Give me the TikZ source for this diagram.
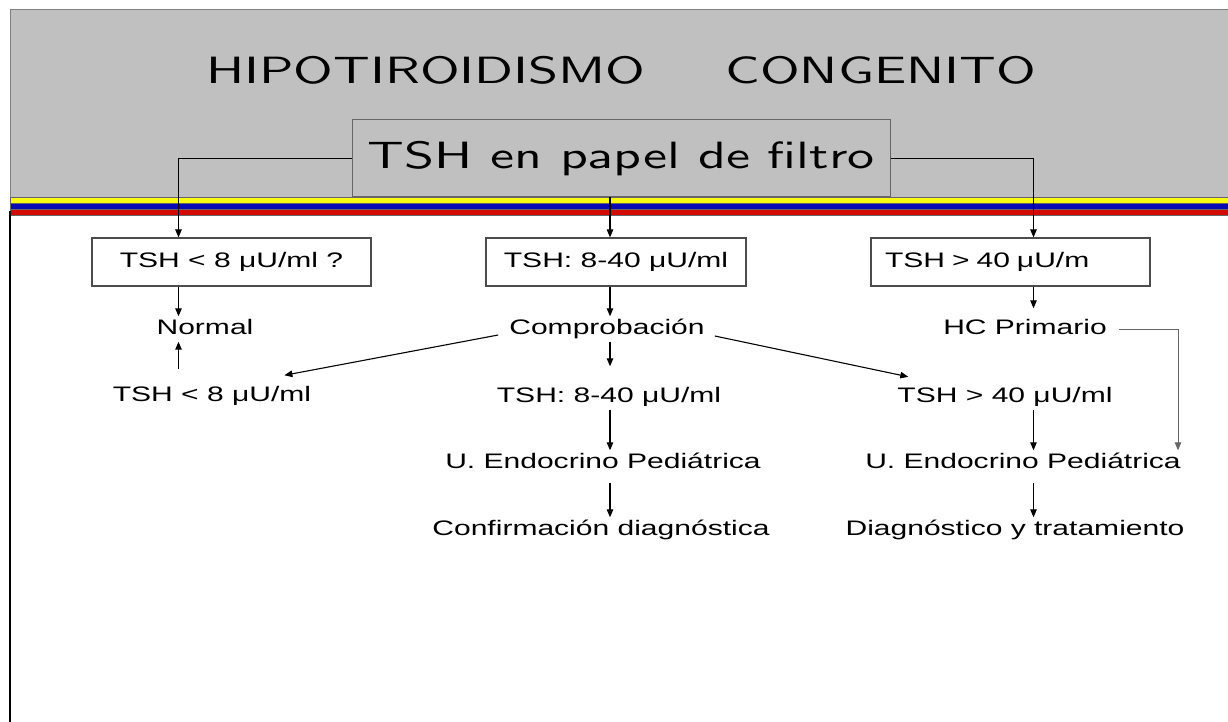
\documentclass[tikz,border=0pt]{standalone}
\usepackage{fontspec}
\setmainfont[FakeStretch=1.43]{Liberation Sans}
\newfontfamily\ttlfont[FakeStretch=1.42]{lmsans10-regular.otf}
\usetikzlibrary{arrows.meta}
\definecolor{hdrgray}{RGB}{192,192,192}
\definecolor{flagyellow}{RGB}{250,250,20}
\definecolor{flagblue}{RGB}{10,10,180}
\definecolor{flagred}{RGB}{210,10,0}

\begin{document}
\begin{tikzpicture}[x=1pt,y=-1pt,
  every node/.style={font=\fontsize{21}{24}\selectfont},
  lbl/.style={text height=15pt,text depth=4pt,inner sep=3pt},
  stepbox/.style={draw=black!70,line width=1.2pt,minimum height=48pt,
    text height=15pt,text depth=4pt},
  ttl/.style={font=\ttlfont\fontsize{38}{40}\selectfont},
  arr/.style={-{Triangle[length=8pt,width=6.5pt]},line width=1.1pt}]
  \useasboundingbox (0,0) rectangle (1228,722);
  % header and flag stripes
  \filldraw[fill=hdrgray,draw=black!50] (10,9) rectangle (1228,197);
  \filldraw[fill=flagyellow,draw=black!60,line width=0.6pt] (10,197) rectangle (1228,203);
  \filldraw[fill=flagblue,draw=black!60,line width=0.6pt] (10,203) rectangle (1228,209.5);
  \filldraw[fill=flagred,draw=black!60,line width=0.6pt] (10,209.5) rectangle (1228,215);
  \draw[line width=2.5pt] (10,211) -- (10,722);

  \node[ttl] (title) at (621,70) {HIPOTIROIDISMO\hspace{80pt}CONGENITO};
  \node[ttl,draw=black!60,fill=hdrgray,line width=1pt,
    minimum width=538pt,minimum height=77pt] (tsh) at (621,158.5) {TSH en papel de filtro};

  % columns of arrows
  \coordinate (lx) at (178.5,0);
  \coordinate (mx) at (610,0);
  \coordinate (rx) at (1033.5,0);
  \coordinate (hx) at (1178,0);

  \node[stepbox,minimum width=279pt] (b1) at (231.5,262) {TSH < 8 μU/ml ?};
  \node[stepbox,minimum width=260pt] (b2) at (616,262) {TSH: 8-40 μU/ml};
  \node[stepbox,text width=251pt,inner xsep=14pt,align=left] (b3) at (1010.5,262) {TSH > 40 μU/m};

  \node[lbl] (nrm) at (205,329) {Normal};
  \node[lbl] (t8) at (212,396) {TSH < 8 μU/ml};
  \node[lbl] (cmp) at (607,329) {Comprobación};
  \node[lbl] (t840) at (609,397) {TSH: 8-40 μU/ml};
  \node[lbl] (ue1) at (603,463) {U. Endocrino Pediátrica};
  \node[lbl] (conf) at (601,530) {Confirmación diagnóstica};
  \node[lbl] (hc) at (1025,329) {HC Primario};
  \node[lbl] (t40) at (1005,397) {TSH > 40 μU/ml};
  \node[lbl] (ue2) at (1023,463) {U. Endocrino Pediátrica};
  \node[lbl] (diag) at (1015,530) {Diagnóstico y tratamiento};

  \draw[arr] (tsh.west) -| (b1.north -| lx);
  \draw[arr] (tsh.east) -| (b3.north -| rx);
  \draw[arr] (tsh.south -| mx) -- (b2.north -| mx);

  \draw[arr] (b1.south -| lx) -- (nrm.north -| lx);
  \draw[arr,shorten <=14pt] (t8.north -| lx) -- (nrm.south -| lx);

  \draw[arr] (b2.south -| mx) -- (cmp.north -| mx);
  \draw[arr,shorten >=18pt] (cmp.south -| mx) -- (t840.north -| mx);
  \draw[arr] (t840.south -| mx) -- (ue1.north -| mx);
  \draw[arr,shorten <=7pt] (ue1.south -| mx) -- (conf.north -| mx);
  \draw[arr] ([shift={(-8pt,-6pt)}]cmp.west) -- ([shift={(-30pt,8pt)}]t8.north east);
  \draw[arr] ([shift={(7pt,-7pt)}]cmp.east) -- ([shift={(14pt,7.5pt)}]t40.north west);

  \draw[arr,shorten >=8pt] (b3.south -| rx) -- (hc.north -| rx);
  \draw[arr] (t40.south -| rx) -- (ue2.north -| rx);
  \draw[arr,shorten <=7pt] (ue2.south -| rx) -- (diag.north -| rx);
  \draw[arr,draw=black!60,line width=0.9pt] ([xshift=9pt]hc.east) -| (ue2.north -| hx);
\end{tikzpicture}
\end{document}
